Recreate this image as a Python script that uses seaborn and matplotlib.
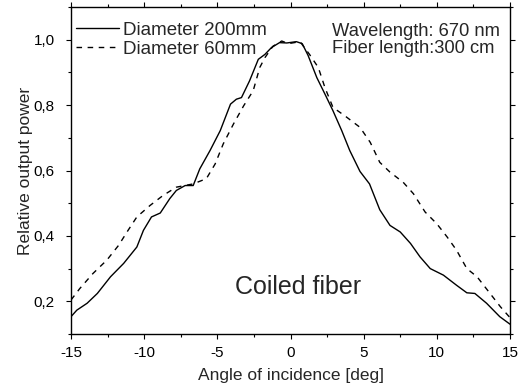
import numpy as np
import pandas as pd
import matplotlib
matplotlib.use("Agg")
import matplotlib.pyplot as plt
import seaborn as sns
from matplotlib.ticker import MultipleLocator, FixedLocator, FixedFormatter

# ---- data ----
x_200 = [-15, -14.6, -13.9, -13.2, -12.3, -11.4, -10.5, -10.05, -9.5, -8.9, -8.25, -7.8,
         -7.2, -6.65, -6.2, -5.5, -4.8, -4.1, -3.7, -3.35, -2.8, -2.2, -1.75, -1.3, -0.75,
         -0.25, 0.4, 0.8, 1.2, 1.8, 2.35, 2.9, 3.5, 4.05, 4.75, 5.4, 6.1, 6.8, 7.5, 8.2,
         8.85, 9.55, 10.45, 11.35, 12.05, 12.6, 13.4, 14.3, 15]
y_200 = [0.153, 0.173, 0.194, 0.224, 0.275, 0.316, 0.366, 0.417, 0.458, 0.470, 0.514, 0.539,
         0.554, 0.554, 0.605, 0.661, 0.722, 0.803, 0.818, 0.823, 0.874, 0.940, 0.955, 0.976,
         0.991, 0.990, 0.994, 0.988, 0.952, 0.884, 0.834, 0.783, 0.722, 0.661, 0.597, 0.559,
         0.480, 0.432, 0.412, 0.377, 0.336, 0.300, 0.280, 0.249, 0.226, 0.224, 0.194, 0.153,
         0.130]

x_60 = [-15, -14.4, -13.5, -12.55, -11.75, -11.1, -10.5, -9.6, -8.7, -7.8, -6.65, -5.75,
        -5.15, -4.6, -3.9, -3.2, -2.55, -2.1, -1.75, -1.2, -0.6, -0.15, 0.65, 1.3, 1.9, 2.35,
        2.9, 3.75, 4.75, 5.45, 6.1, 6.8, 7.7, 8.4, 9.2, 10.0, 10.7, 11.35, 12.05, 12.75,
        13.55, 14.35, 15]
y_60 = [0.204, 0.239, 0.285, 0.326, 0.371, 0.417, 0.458, 0.493, 0.524, 0.549, 0.559, 0.575,
        0.620, 0.681, 0.742, 0.798, 0.844, 0.915, 0.945, 0.980, 0.996, 0.988, 0.994, 0.955,
        0.915, 0.854, 0.793, 0.766, 0.732, 0.686, 0.625, 0.595, 0.564, 0.529, 0.473, 0.437,
        0.397, 0.356, 0.300, 0.275, 0.229, 0.183, 0.150]

series_names = ["Diameter 200mm", "Diameter 60mm"]
x_ticks = [-15, -10, -5, 0, 5, 10, 15]
x_tick_labels = ["-15", "-10", "-5", "0", "5", "10", "15"]
y_ticks = [0.2, 0.4, 0.6, 0.8, 1.0]
y_tick_labels = ["0,2", "0,4", "0,6", "0,8", "1,0"]

df = pd.concat([
    pd.DataFrame({"angle": x_200, "power": y_200, "series": series_names[0]}),
    pd.DataFrame({"angle": x_60, "power": y_60, "series": series_names[1]}),
], ignore_index=True)

# ---- style ----
sns.set_theme(style="ticks")
plt.rcParams["font.family"] = ["Liberation Sans", "DejaVu Sans"]

fig = plt.figure(figsize=(5.22, 3.89), dpi=100)
ax = fig.add_axes([71 / 522, 1 - 334 / 389, (510 - 71) / 522, (334 - 7) / 389])

sns.lineplot(data=df, x="angle", y="power", style="series", hue="series",
             palette={series_names[0]: "black", series_names[1]: "black"},
             style_order=series_names,
             dashes={series_names[0]: "", series_names[1]: (4, 4)},
             linewidth=1.0, ax=ax, sort=False, legend=True)

ax.set_xlim(-15, 15)
ax.set_ylim(0.1, 1.1)

ax.xaxis.set_major_locator(FixedLocator(x_ticks))
ax.xaxis.set_major_formatter(FixedFormatter(x_tick_labels))
ax.xaxis.set_minor_locator(MultipleLocator(2.5))
ax.yaxis.set_major_locator(FixedLocator(y_ticks))
ax.yaxis.set_major_formatter(FixedFormatter(y_tick_labels))
ax.yaxis.set_minor_locator(MultipleLocator(0.1))

ax.tick_params(which="both", direction="out", top=True, right=True,
               labeltop=False, labelright=False, colors="black", labelsize=11)
ax.tick_params(which="major", length=3.6, width=0.8)
ax.tick_params(which="minor", length=2.4, width=0.8)
ax.tick_params(axis="y", which="major", pad=8)
ax.tick_params(axis="x", which="major", pad=5)

for side in ["left", "bottom", "top", "right"]:
    ax.spines[side].set_visible(True)
    ax.spines[side].set_color("black")
    ax.spines[side].set_linewidth(1.0)

ax.set_xlabel("Angle of incidence [deg]", fontsize=12.5, labelpad=6)
ax.set_ylabel("Relative output power", fontsize=12.5, labelpad=0.5)

leg = ax.legend(loc="center left", bbox_to_anchor=(0.012, 0.8995), frameon=False,
                fontsize=13.5, handlelength=2.3, handletextpad=0.2,
                labelspacing=0.1, borderaxespad=0.0, borderpad=0.0, title=None)

ax.text(0.595, 0.8995, "Wavelength: 670 nm\nFiber length:300 cm", transform=ax.transAxes,
        fontsize=13.2, va="center", ha="left", linespacing=1.05)
ax.text(0.518, 0.1435, "Coiled fiber", transform=ax.transAxes, fontsize=18,
        ha="center", va="center")

fig.savefig("out.png", dpi=100)
